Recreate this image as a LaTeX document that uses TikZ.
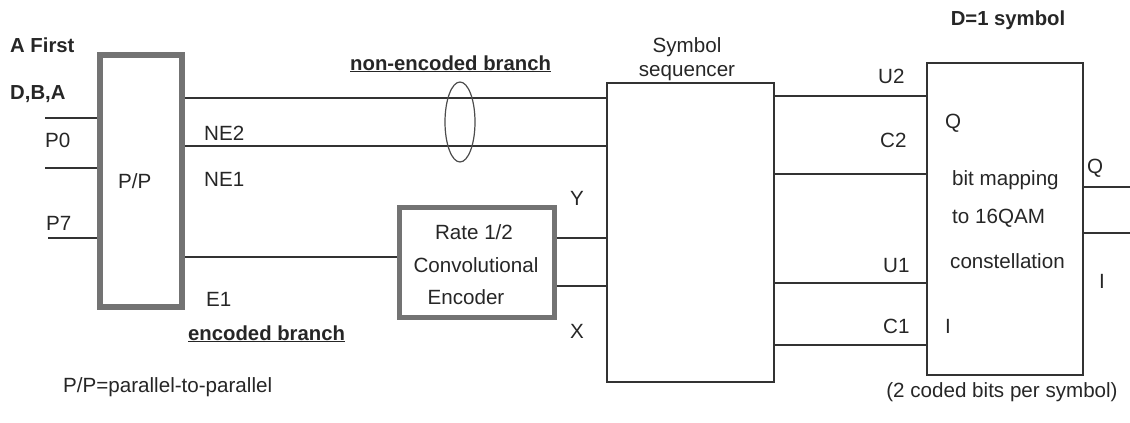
\documentclass[tikz,border=0pt]{standalone}
\usepackage{fontspec}
\setmainfont{Liberation Sans}
\usetikzlibrary{shapes.geometric}
\begin{document}
\begin{tikzpicture}[x=1pt,y=-1pt,
  txt/.style={font=\fontsize{20.6}{24}\selectfont, text=black!85, inner sep=0pt, anchor=base west},
  ctxt/.style={txt, anchor=base},
  btxt/.style={txt, font=\fontsize{20.3}{24}\selectfont\bfseries},
  wire/.style={draw=black!80, line width=1.6pt},
  thickbox/.style={draw=black!55, line width=6pt, inner sep=0pt},
  thinbox/.style={draw=black!80, line width=1.6pt, inner sep=0pt}]
\useasboundingbox (0,0) rectangle (1130,423);

% boxes
\node[thickbox, minimum width=82pt, minimum height=252pt] (pp) at (141,181) {};
\node[thickbox, line width=5pt, minimum width=155pt, minimum height=110pt] (conv) at (477,262.5) {};
\node[thinbox, minimum width=167pt, minimum height=299pt] (seq) at (690.5,232.5) {};
\node[thinbox, minimum width=156pt, minimum height=312pt] (map) at (1005,219) {};

% levels and free ends
\coordinate (i0) at (45,118);
\coordinate (i1) at (45,168);
\coordinate (i7) at (48,238);
\coordinate (ne3) at (0,98);
\coordinate (ne2) at (0,146);
\coordinate (e1) at (0,257);
\coordinate (yy) at (0,238);
\coordinate (xx) at (0,286);
\coordinate (u2) at (0,96);
\coordinate (c2) at (0,174);
\coordinate (u1) at (0,283);
\coordinate (c1) at (0,345);
\coordinate (qo) at (1130,187);
\coordinate (io) at (1130,233);

% wires
\draw[wire] (i0) -- (pp.west |- i0);
\draw[wire] (i1) -- (pp.west |- i1);
\draw[wire] (i7) -- (pp.west |- i7);
\draw[wire] (pp.east |- ne3) -- (seq.west |- ne3);
\draw[wire] (pp.east |- ne2) -- (seq.west |- ne2);
\draw[wire] (pp.east |- e1) -- (conv.west |- e1);
\draw[wire] (conv.east |- yy) -- (seq.west |- yy);
\draw[wire] (conv.east |- xx) -- (seq.west |- xx);
\draw[wire] (seq.east |- u2) -- (map.west |- u2);
\draw[wire] (seq.east |- c2) -- (map.west |- c2);
\draw[wire] (seq.east |- u1) -- (map.west |- u1);
\draw[wire] (seq.east |- c1) -- (map.west |- c1);
\draw[wire] (map.east |- qo) -- (qo);
\draw[wire] (map.east |- io) -- (io);

% ellipse grouping
\node[draw=black!70, line width=1.2pt, ellipse, minimum width=30pt, minimum height=80pt, inner sep=0pt] (ell) at (460,122) {};

% labels
\node[btxt] (tfirst) at (10,52) {A First};
\node[btxt] (tdba) at (10,99) {D,B,A};
\node[txt] (tp0) at (45,147) {P0};
\node[txt] (tp7) at (46,230) {P7};
\node[txt] (tpp) at (118,188) {P/P};
\node[txt] (tne2) at (204,140) {NE2};
\node[txt] (tne1) at (204,186) {NE1};
\node[txt] (te1) at (206,306) {E1};
\node[btxt] (tenc) at (188,340) {\underline{encoded branch}};
\node[btxt] (tnon) at (350,70) {\underline{non-encoded branch}};
\node[txt] (tppdef) at (63,392) {P/P=parallel-to-parallel};
\node[ctxt] (tsym) at (687,52) {Symbol};
\node[ctxt] (tseqn) at (687,76) {sequencer};
\node[ctxt] (trate) at (474,239) {Rate 1/2};
\node[ctxt] (tconv) at (476,272) {Convolutional};
\node[ctxt] (tencd) at (466,304) {Encoder};
\node[ctxt] (ty) at (577,205) {Y};
\node[ctxt] (tx) at (577,338) {X};
\node[txt] (tu2) at (878,83) {U2};
\node[txt] (tc2) at (880,147) {C2};
\node[txt] (tu1) at (883,272) {U1};
\node[txt] (tc1) at (883,333) {C1};
\node[btxt, anchor=base] (td1) at (1008,25) {D=1 symbol};
\node[txt] (tqin) at (945,128) {Q};
\node[txt] (tbit) at (952,185) {bit mapping};
\node[txt] (t16) at (952,223) {to 16QAM};
\node[txt] (tcons) at (950,268) {constellation};
\node[txt] (tiin) at (945,333) {I};
\node[ctxt] (tqout) at (1095,173) {Q};
\node[ctxt] (tiout) at (1102,288) {I};
\node[ctxt] (tcoded) at (1002,397) {(2 coded bits per symbol)};
\end{tikzpicture}
\end{document}
